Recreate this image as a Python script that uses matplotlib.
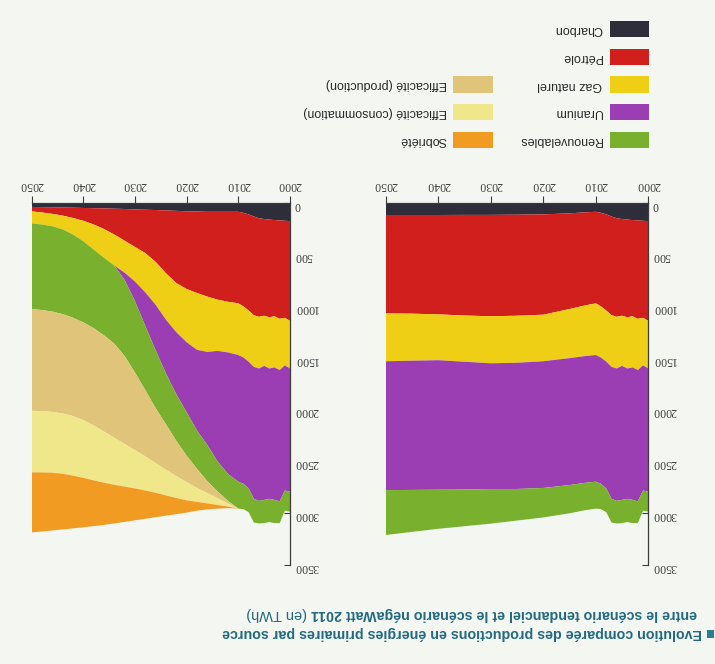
import matplotlib
matplotlib.use("Agg")
import matplotlib.pyplot as plt
from matplotlib.patches import Rectangle

# ---------------- data (TWh) ----------------
years_hist = [2000, 2001, 2002, 2003, 2004, 2005, 2006, 2007, 2008, 2009, 2010]
charbon_hist = [175, 172, 168, 165, 160, 155, 148, 130, 110, 95, 85]
petrole_hist = [965, 938, 952, 930, 945, 935, 952, 955, 930, 905, 885]
gaz_hist = [460, 460, 495, 495, 495, 485, 500, 500, 495, 495, 500]
uranium_hist = [1190, 1210, 1270, 1280, 1260, 1295, 1280, 1275, 1225, 1220, 1225]
renouv_hist = [195, 195, 210, 225, 225, 225, 218, 230, 230, 245, 260]
effprod_hist = [0, 0, 0, 0, 0, 0, 0, 0, 0, 0, 0]
effcons_hist = [0, 0, 0, 0, 0, 0, 0, 0, 0, 0, 0]
sobriete_hist = [0, 0, 0, 0, 0, 0, 0, 0, 0, 0, 0]

# scénario tendanciel
years_tend = [2012, 2015, 2020, 2025, 2030, 2035, 2040, 2045, 2050]
charbon_tend = [90, 100, 110, 113, 115, 115, 116, 116, 116]
petrole_tend = [900, 925, 970, 977, 980, 973, 961, 954, 951]
gaz_tend = [490, 475, 450, 455, 455, 447, 443, 455, 463]
uranium_tend = [1225, 1227, 1225, 1220, 1215, 1235, 1252, 1249, 1246]
renouv_tend = [265, 273, 285, 305, 335, 355, 378, 406, 434]

# scénario négaWatt
years_nw = [2012, 2014, 2016, 2018, 2020, 2022, 2024, 2026, 2028, 2030,
            2032, 2034, 2036, 2038, 2040, 2042, 2044, 2046, 2048, 2050]
charbon_nw = [85, 85, 85, 82, 80, 76, 72, 68, 65, 62, 58, 55, 52, 50, 48, 45, 43, 41, 40, 38]
petrole_nw = [870, 850, 820, 788, 752, 699, 608, 502, 420, 363, 307, 250, 200, 158, 124, 100, 79, 64, 52, 43]
gaz_nw = [490, 495, 535, 550, 515, 475, 450, 415, 380, 335, 310, 300, 278, 242, 198, 160, 133, 120, 116, 116]
uranium_nw = [1175, 1070, 900, 780, 677, 600, 520, 440, 325, 190, 70, 0, 0, 0, 0, 0, 0, 0, 0, 0]
renouv_nw = [260, 290, 350, 370, 420, 450, 490, 560, 620, 690, 735, 755, 750, 760, 785, 805, 820, 825, 827, 828]
effprod_nw = [25, 65, 115, 185, 256, 340, 440, 530, 640, 750, 850, 910, 930, 940, 945, 950, 960, 970, 977, 984]
effcons_nw = [30, 65, 100, 135, 175, 212, 248, 287, 330, 370, 412, 455, 495, 532, 558, 576, 583, 588, 593, 596]
sobriete_nw = [15, 35, 57, 85, 118, 156, 195, 236, 273, 308, 341, 373, 407, 442, 477, 510, 538, 558, 571, 580]

sources = ["Charbon", "Pétrole", "Gaz naturel", "Uranium", "Renouvelables"]
extras = ["Efficacité (production)", "Efficacité (consommation)", "Sobriété"]
x_ticks = [2000, 2010, 2020, 2030, 2040, 2050]
y_ticks = [0, 500, 1000, 1500, 2000, 2500, 3000, 3500]
title_1 = "Evolution comparée des productions en énergies primaires par source"
title_2a = "entre le scénario tendanciel et le scénario négaWatt 2011"
title_2b = "(en TWh)"

# ---------------- style ----------------
BG = "#f3f6f1"
src_colors = ["#2e2e3a", "#d11f1d", "#efcf16", "#9b3db3", "#79b12f"]
ext_colors = ["#e0c47a", "#f0e78b", "#f29b22"]
TEAL = "#2a7e96"
TEAL_TXT = "#226a80"

W, H = 715, 664
fig = plt.figure(figsize=(W / 100, H / 100), dpi=100, facecolor=BG)


def fx(px):
    return px / W


def fy(py):
    return 1 - py / H


def make_axes(x_left, x_right, y_top, y_bottom):
    ax = fig.add_axes([fx(x_left), fy(y_bottom), fx(x_right) - fx(x_left), fy(y_top) - fy(y_bottom)])
    ax.set_facecolor("none")
    ax.set_xlim(2050, 2000)
    ax.set_ylim(3500, 0)
    ax.set_axisbelow(True)
    for s in ("left", "bottom"):
        ax.spines[s].set_visible(False)
    for s in ("top", "right"):
        ax.spines[s].set_color("#3c3c3c")
        ax.spines[s].set_linewidth(0.9)
    ax.set_xticks(x_ticks)
    ax.set_yticks(y_ticks)
    ax.tick_params(axis="x", top=True, bottom=False, labeltop=True, labelbottom=False,
                   direction="out", length=5, width=0.8, pad=4, labelrotation=180,
                   colors="#3c3c3c", labelsize=8.5)
    ax.tick_params(axis="y", right=True, left=False, labelright=True, labelleft=False,
                   direction="in", length=4, width=0.8, pad=3, labelrotation=180,
                   colors="#3c3c3c", labelsize=8.5)
    for lab in ax.get_xticklabels() + ax.get_yticklabels():
        lab.set_fontfamily("Liberation Serif")
    return ax


# tendanciel (right, upside down)
ax_t = make_axes(385.8, 648.3, 203, 565)
x_t = years_hist + years_tend
ax_t.stackplot(x_t,
               charbon_hist + charbon_tend,
               petrole_hist + petrole_tend,
               gaz_hist + gaz_tend,
               uranium_hist + uranium_tend,
               renouv_hist + renouv_tend,
               colors=src_colors, linewidth=0)

# négaWatt (left, upside down)
ax_n = make_axes(31.7, 290, 203, 565)
x_n = years_hist + years_nw
ax_n.stackplot(x_n,
               charbon_hist + charbon_nw,
               petrole_hist + petrole_nw,
               gaz_hist + gaz_nw,
               uranium_hist + uranium_nw,
               renouv_hist + renouv_nw,
               effprod_hist + effprod_nw,
               effcons_hist + effcons_nw,
               sobriete_hist + sobriete_nw,
               colors=src_colors + ext_colors, linewidth=0)

# ---------------- legend (upside down) ----------------
row_y = [29, 56.5, 84.5, 112, 140]
for name, col, yc in zip(sources, src_colors, row_y):
    fig.patches.append(Rectangle((fx(610), fy(yc + 8)), fx(648.5) - fx(610), fy(yc - 8) - fy(yc + 8),
                                 transform=fig.transFigure, facecolor=col, edgecolor="none"))
    fig.text(fx(602), fy(yc), name, rotation=180, ha="right", va="center",
             fontsize=9, family="Liberation Sans", color="#2a2a2a")
for name, col, yc in zip(extras, ext_colors, row_y[2:]):
    fig.patches.append(Rectangle((fx(453.3), fy(yc + 8)), fx(493.3) - fx(453.3), fy(yc - 8) - fy(yc + 8),
                                 transform=fig.transFigure, facecolor=col, edgecolor="none"))
    fig.text(fx(446.7), fy(yc), name, rotation=180, ha="right", va="center",
             fontsize=9, family="Liberation Sans", color="#2a2a2a")

# ---------------- title (upside down) ----------------
fig.patches.append(Rectangle((fx(706.5), fy(637.5)), fx(714) - fx(706.5), fy(629.5) - fy(637.5),
                             transform=fig.transFigure, facecolor=TEAL, edgecolor="none"))
fig.text(fx(702), fy(633), title_1, rotation=180, ha="right", va="center",
         fontsize=10.3, fontweight="bold", family="Liberation Sans", color=TEAL_TXT)
t2 = fig.text(fx(697), fy(614), title_2a, rotation=180, ha="right", va="center",
              fontsize=10.3, fontweight="bold", family="Liberation Sans", color=TEAL_TXT)
fig.canvas.draw()
bb = t2.get_window_extent(fig.canvas.get_renderer())
fig.text(fx(bb.x0 - 4), fy(614), title_2b, rotation=180, ha="right", va="center",
         fontsize=10.5, family="Liberation Sans", color=TEAL_TXT)

fig.savefig("out.png", dpi=100, facecolor=BG)
